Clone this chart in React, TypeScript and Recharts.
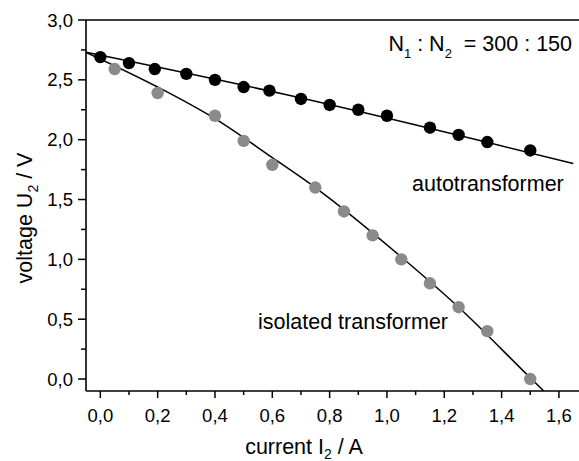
import React from "react";
import { ComposedChart, XAxis, YAxis, Scatter, Line, ReferenceLine } from "recharts";

// measured points
const autoCurrent = [0, 0.1, 0.19, 0.3, 0.4, 0.5, 0.59, 0.7, 0.8, 0.9, 1.0, 1.15, 1.25, 1.35, 1.5];
const autoVoltage = [2.69, 2.64, 2.59, 2.55, 2.5, 2.44, 2.41, 2.34, 2.29, 2.25, 2.2, 2.1, 2.04, 1.98, 1.91];

const isoCurrent = [0.05, 0.2, 0.4, 0.5, 0.6, 0.75, 0.85, 0.95, 1.05, 1.15, 1.25, 1.35, 1.5];
const isoVoltage = [2.59, 2.39, 2.2, 1.99, 1.79, 1.6, 1.4, 1.2, 1.0, 0.8, 0.6, 0.4, 0.0];

// fitted curves
const autoFitCurrent = [-0.05, 0.65, 1.65];
const autoFitVoltage = [2.73, 2.375, 1.8];
const isoFitCurrent = [-0.05, 0.2, 0.4, 0.6, 0.75, 1.05, 1.25, 1.5, 1.547];
const isoFitVoltage = [2.73, 2.44, 2.175, 1.85, 1.6, 1.02, 0.6, 0.01, -0.1];

// ticks
const xMajorTicks = [0, 0.2, 0.4, 0.6, 0.8, 1.0, 1.2, 1.4, 1.6];
const xMinorTicks = [0.1, 0.3, 0.5, 0.7, 0.9, 1.1, 1.3, 1.5];
const yMajorTicks = [0, 0.5, 1.0, 1.5, 2.0, 2.5, 3.0];
const yMinorTicks = [0.25, 0.75, 1.25, 1.75, 2.25, 2.75];

const xAllTicks = [...xMajorTicks, ...xMinorTicks].sort((a, b) => a - b);
const yAllTicks = [...yMajorTicks, ...yMinorTicks].sort((a, b) => a - b);

const zip = (xs: number[], ys: number[]) => xs.map((x, i) => ({ x, y: ys[i] }));
const autoData = zip(autoCurrent, autoVoltage);
const isoData = zip(isoCurrent, isoVoltage);
const autoFit = zip(autoFitCurrent, autoFitVoltage);
const isoFit = zip(isoFitCurrent, isoFitVoltage);

const FONT = "'Liberation Sans', Arial, sans-serif";
const TICK_FS = 18.5;
const LABEL_FS = 21.5;

const fmt = (v: number) => v.toFixed(1).replace(".", ",");

const XTick = (props: any) => {
  const { x, y, payload } = props;
  const major = xMajorTicks.some((t) => Math.abs(t - payload.value) < 1e-9);
  return (
    <g>
      <line x1={x} x2={x} y1={y} y2={y + (major ? 7 : 4)} stroke="#000" strokeWidth={1.5} />
      {major && (
        <text x={x} y={y + 31} textAnchor="middle" fontSize={TICK_FS} fontFamily={FONT} fill="#000">
          {fmt(payload.value)}
        </text>
      )}
    </g>
  );
};

const YTick = (props: any) => {
  const { x, y, payload } = props;
  const major = yMajorTicks.some((t) => Math.abs(t - payload.value) < 1e-9);
  return (
    <g>
      <line x1={x - (major ? 8 : 5)} x2={x} y1={y} y2={y} stroke="#000" strokeWidth={1.5} />
      {major && (
        <text x={x - 13} y={y} dy="0.36em" textAnchor="end" fontSize={TICK_FS} fontFamily={FONT} fill="#000">
          {fmt(payload.value)}
        </text>
      )}
    </g>
  );
};

const Dot = (color: string) => (props: any) => {
  const { cx, cy } = props;
  if (cx == null || cy == null) return <g />;
  return <circle cx={cx} cy={cy} r={6.2} fill={color} />;
};

export default function App() {
  return (
    <div style={{ position: "fixed", left: 0, top: 0, width: 579, height: 461, overflow: "hidden", background: "#fff" }}>
      <ComposedChart
        width={579}
        height={461}
        margin={{ top: 20, right: 0, bottom: 0, left: 0 }}
        style={{ position: "absolute", left: 0, top: 0 }}
      >
        <XAxis
          type="number"
          dataKey="x"
          domain={[-0.05, 1.67]}
          allowDataOverflow
          ticks={xAllTicks}
          interval={0}
          height={70}
          tickSize={0}
          tickMargin={0}
          tickLine={false}
          axisLine={{ stroke: "#000", strokeWidth: 1.6 }}
          tick={<XTick />}
        />
        <YAxis
          type="number"
          dataKey="y"
          domain={[-0.1, 3.0]}
          allowDataOverflow
          ticks={yAllTicks}
          interval={0}
          width={86}
          tickSize={0}
          tickMargin={0}
          tickLine={false}
          axisLine={{ stroke: "#000", strokeWidth: 1.6 }}
          tick={<YTick />}
        />
        <ReferenceLine y={3.0} stroke="#000" strokeWidth={1.6} ifOverflow="extendDomain" />
        <Scatter data={isoData} dataKey="y" fill="#8a8a8a" shape={Dot("#8a8a8a")} isAnimationActive={false} />
        <Scatter data={autoData} dataKey="y" fill="#000" shape={Dot("#000")} isAnimationActive={false} />
        <Line data={isoFit} dataKey="y" type="monotone" stroke="#000" strokeWidth={1.5} dot={false} activeDot={false} isAnimationActive={false} />
        <Line data={autoFit} dataKey="y" type="monotone" stroke="#000" strokeWidth={1.5} dot={false} activeDot={false} isAnimationActive={false} />
      </ComposedChart>
      <svg width={579} height={461} style={{ position: "absolute", left: 0, top: 0, pointerEvents: "none" }}>
        <g fontFamily={FONT} fill="#000">
          <text x={572} y={51} textAnchor="end" fontSize={LABEL_FS}>
            N<tspan fontSize={13} dy={7}>1</tspan>
            <tspan fontSize={LABEL_FS} dy={-7}>{" : N"}</tspan>
            <tspan fontSize={13} dy={7}>2</tspan>
            <tspan fontSize={LABEL_FS} dy={-7}>{"\u00a0 = 300 : 150"}</tspan>
          </text>
          <text x={412} y={191} fontSize={LABEL_FS}>autotransformer</text>
          <text x={258} y={329} fontSize={LABEL_FS}>isolated transformer</text>
          <text x={304} y={454} textAnchor="middle" fontSize={LABEL_FS}>
            current I<tspan fontSize={14} dy={5}>2</tspan>
            <tspan fontSize={LABEL_FS} dy={-5}>{" / A"}</tspan>
          </text>
          <text x={32} y={218} textAnchor="middle" fontSize={LABEL_FS} transform="rotate(-90, 32, 218)">
            voltage U<tspan fontSize={14} dy={6}>2</tspan>
            <tspan fontSize={LABEL_FS} dy={-6}>{"\u00a0/\u00a0V"}</tspan>
          </text>
        </g>
      </svg>
    </div>
  );
}
